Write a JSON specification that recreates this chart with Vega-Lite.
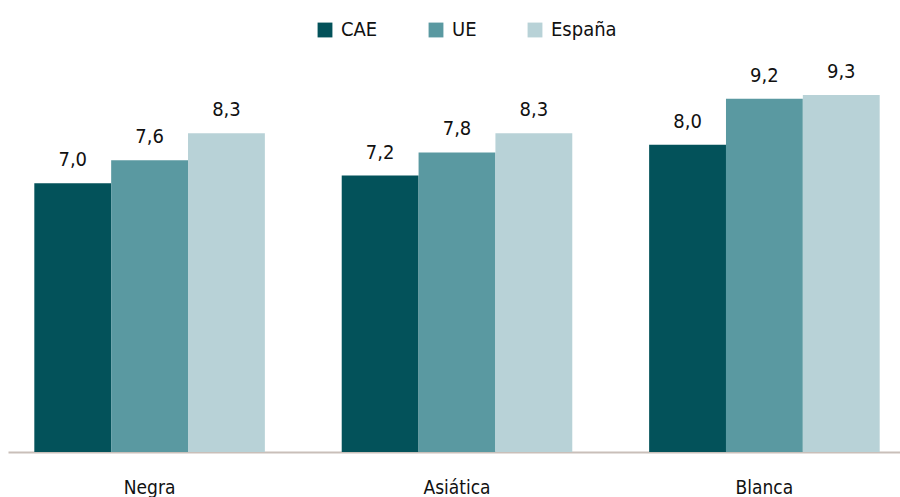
{
  "$schema": "https://vega.github.io/schema/vega-lite/v6.json",
  "width": 898,
  "height": 384,
  "autosize": {"type": "none"},
  "padding": {"left": 8, "top": 68, "right": -6, "bottom": 45},
  "background": "white",
  "config": {
    "view": {"stroke": null},
    "font": "DejaVu Sans Condensed",
    "locale": {"number": {"decimal": ",", "thousands": ".", "grouping": [3], "currency": ["", " €"]}}
  },
  "data": {
    "values": [
      {"grupo": "Negra", "serie": "CAE", "valor": 7.0},
      {"grupo": "Negra", "serie": "UE", "valor": 7.6},
      {"grupo": "Negra", "serie": "España", "valor": 8.3},
      {"grupo": "Asiática", "serie": "CAE", "valor": 7.2},
      {"grupo": "Asiática", "serie": "UE", "valor": 7.8},
      {"grupo": "Asiática", "serie": "España", "valor": 8.3},
      {"grupo": "Blanca", "serie": "CAE", "valor": 8.0},
      {"grupo": "Blanca", "serie": "UE", "valor": 9.2},
      {"grupo": "Blanca", "serie": "España", "valor": 9.3}
    ]
  },
  "encoding": {
    "x": {
      "field": "grupo",
      "type": "nominal",
      "sort": ["Negra", "Asiática", "Blanca"],
      "scale": {"paddingInner": 0.25, "paddingOuter": 0.0856},
      "axis": {
        "title": null,
        "labelAngle": 0,
        "labelFontSize": 19,
        "labelColor": "#111111",
        "labelPadding": 26,
        "ticks": false,
        "domainColor": "#c9bfb9",
        "domainWidth": 2
      }
    },
    "xOffset": {"field": "serie", "type": "nominal", "sort": ["CAE", "UE", "España"], "scale": {"paddingInner": 0, "paddingOuter": 0}},
    "y": {
      "field": "valor",
      "type": "quantitative",
      "scale": {"domain": [0, 10]},
      "axis": null
    }
  },
  "layer": [
    {
      "mark": {"type": "bar"},
      "encoding": {
        "color": {
          "field": "serie",
          "type": "nominal",
          "sort": ["CAE", "UE", "España"],
          "scale": {"domain": ["CAE", "UE", "España"], "range": ["#03525a", "#5a99a1", "#b8d2d7"]},
          "legend": {
            "title": null,
            "orient": "none",
            "direction": "horizontal",
            "legendX": 307,
            "legendY": -48,
            "symbolType": "square",
            "symbolSize": 220,
            "symbolStrokeWidth": 0,
            "labelFontSize": 20,
            "labelColor": "#111111",
            "labelOffset": 6,
            "columnPadding": 48
          }
        }
      }
    },
    {
      "mark": {"type": "text", "baseline": "bottom", "dy": -13, "fontSize": 20, "color": "#111111"},
      "encoding": {
        "text": {"field": "valor", "type": "quantitative", "format": ".1f"}
      }
    }
  ]
}
